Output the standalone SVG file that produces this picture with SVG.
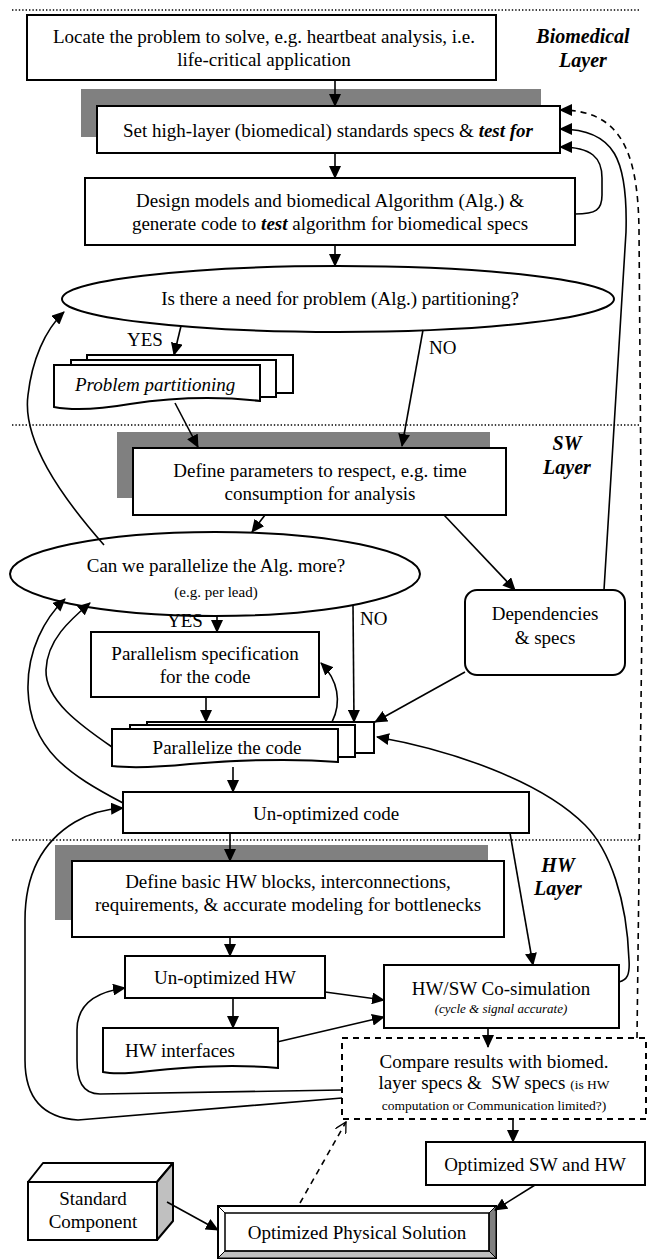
<svg xmlns="http://www.w3.org/2000/svg" width="650" height="1260" viewBox="0 0 650 1260">
<defs>
<marker id="ah" markerUnits="userSpaceOnUse" markerWidth="13" markerHeight="12" refX="12" refY="6" orient="auto"><path d="M0,0 L13,6 L0,12 Z" fill="#000"/></marker>
<marker id="ao" markerUnits="userSpaceOnUse" markerWidth="12" markerHeight="12" refX="11" refY="6" orient="auto"><path d="M0,0 L11,6 L0,12" fill="none" stroke="#000" stroke-width="1.3"/></marker>
<style>
text{font-family:"Liberation Serif","Times New Roman",serif;font-size:19px;fill:#000}
.c{text-anchor:middle}
.bi{font-weight:bold;font-style:italic;font-size:20px}
.it{font-style:italic}
.sm{font-size:15px}
.s2{font-size:13.5px}
.xs{font-size:13px;font-style:italic}
.box{fill:#fff;stroke:#000;stroke-width:2}
.sh{fill:#808080;stroke:none}
.dot{stroke:#000;stroke-width:1.4;stroke-dasharray:1.4 2;fill:none}
.cn path{fill:none;stroke:#000;stroke-width:1.6}
.cn .a{marker-end:url(#ah)}
.dash{stroke-dasharray:6 5}
</style>
</defs>
<rect width="650" height="1260" fill="#fff"/>
<g id="layers">
<line class="dot" x1="12" y1="10" x2="640" y2="10"/>
<line class="dot" x1="12" y1="425" x2="640" y2="425"/>
<line class="dot" x1="12" y1="840" x2="640" y2="840"/>
<text class="bi c" x="583" y="43">Biomedical</text>
<text class="bi c" x="583" y="67">Layer</text>
<text class="bi c" x="567" y="450">SW</text>
<text class="bi c" x="567" y="474">Layer</text>
<text class="bi c" x="558" y="872">HW</text>
<text class="bi c" x="558" y="895">Layer</text>
</g>
<g id="n1"><rect class="box" x="27" y="15" width="469" height="65"/>
<text class="c" x="264" y="43">Locate the problem to solve, e.g. heartbeat analysis, i.e.</text>
<text class="c" x="264" y="66">life-critical application</text></g>
<g id="n2"><rect class="sh" x="81" y="89" width="460" height="48"/><rect class="box" x="97" y="106" width="463" height="47"/>
<text class="c" x="328" y="137">Set high-layer (biomedical) standards specs &amp; <tspan font-weight="bold" font-style="italic">test for</tspan></text></g>
<g id="n3"><rect class="box" x="85" y="178" width="490" height="67"/>
<text class="c" x="330" y="207">Design models and biomedical Algorithm (Alg.) &amp;</text>
<text class="c" x="330" y="230">generate code to <tspan font-weight="bold" font-style="italic">test</tspan> algorithm for biomedical specs</text></g>
<g id="n4"><ellipse class="box" cx="338" cy="299" rx="276" ry="33"/>
<text class="c" x="340" y="305">Is there a need for problem (Alg.) partitioning?</text></g>
<g id="n5"><rect class="box" x="87" y="355" width="206" height="38"/><rect class="box" x="71" y="360" width="205" height="37"/>
<path class="box" d="M54,365 H260 V401 C215,396 170,398 130,404 C95,410 70,410 54,407 Z"/>
<text class="it" x="75" y="391">Problem partitioning</text></g>
<g id="n6"><rect class="sh" x="117" y="432" width="373" height="66"/><rect class="box" x="133" y="448" width="373" height="67"/>
<text class="c" x="320" y="477">Define parameters to respect, e.g. time</text>
<text class="c" x="320" y="500">consumption for analysis</text></g>
<g id="n7"><ellipse class="box" cx="215" cy="574" rx="205" ry="42"/>
<text class="c" x="216" y="572">Can we parallelize the Alg. more?</text>
<text class="c sm" x="216" y="597">(e.g. per lead)</text></g>
<g id="n8"><rect class="box" x="465" y="590" width="160" height="85" rx="12"/>
<text class="c" x="545" y="620">Dependencies</text>
<text class="c" x="545" y="644">&amp; specs</text></g>
<g id="n9"><rect class="box" x="91" y="632" width="228" height="65"/>
<text class="c" x="205" y="660">Parallelism specification</text>
<text class="c" x="205" y="683">for the code</text></g>
<g id="n10"><rect class="box" x="147" y="722" width="227" height="31"/><rect class="box" x="130" y="725" width="225" height="32"/>
<path class="box" d="M112,729 H338 V762 C290,758 240,760 190,764 C150,768 130,768 112,766 Z"/>
<text class="c" x="227" y="754">Parallelize the code</text></g>
<g id="n11"><rect class="box" x="123" y="792" width="406" height="41"/>
<text class="c" x="326" y="820">Un-optimized code</text></g>
<g id="n12"><rect class="sh" x="55" y="845" width="433" height="75"/><rect class="box" x="72" y="861" width="432" height="76"/>
<text class="c" x="288" y="888">Define basic HW blocks, interconnections,</text>
<text class="c" x="288" y="911">requirements, &amp; accurate modeling for bottlenecks</text></g>
<g id="n13"><rect class="box" x="125" y="956" width="200" height="42"/>
<text class="c" x="225" y="984">Un-optimized HW</text></g>
<g id="n14"><rect class="box" x="384" y="965" width="235" height="63"/>
<text class="c" x="501" y="995">HW/SW Co-simulation</text>
<text class="c xs" x="501" y="1013">(cycle &amp; signal accurate)</text></g>
<g id="n15"><path class="box" d="M103,1028 H278 V1068 C230,1064 190,1067 150,1071 C125,1074 112,1074 103,1072 Z"/>
<text x="125" y="1057">HW interfaces</text></g>
<g id="n16"><rect class="box dash" x="342" y="1038" width="304" height="81"/>
<text class="c" x="494" y="1068">Compare results with biomed.</text>
<text class="c" x="494" y="1089">layer specs &amp;&#160; SW specs <tspan class="s2">(is HW</tspan></text>
<text class="c s2" x="494" y="1110">computation or Communication limited?)</text></g>
<g id="n17"><rect class="box" x="426" y="1142" width="219" height="43"/>
<text class="c" x="535" y="1171">Optimized SW and HW</text></g>
<g id="n18"><polygon points="28,1182 43,1163 173,1163 157,1182" fill="#fff" stroke="#000" stroke-width="2" stroke-linejoin="round"/>
<polygon points="157,1182 173,1163 173,1221 157,1240" fill="#c0c0c0" stroke="#000" stroke-width="2" stroke-linejoin="round"/>
<rect class="box" x="28" y="1182" width="129" height="58"/>
<text class="c" x="93" y="1205">Standard</text>
<text class="c" x="93" y="1228">Component</text></g>
<g id="n19"><rect class="box" x="218" y="1206" width="278" height="52"/>
<polygon points="489,1213 496,1206 496,1258 489,1251" fill="#808080" stroke="#000" stroke-width="1"/>
<polygon points="225,1251 489,1251 496,1258 218,1258" fill="#c0c0c0" stroke="#000" stroke-width="1"/>
<line x1="218" y1="1206" x2="225" y2="1213" stroke="#000" stroke-width="1"/>
<line x1="218" y1="1258" x2="225" y2="1251" stroke="#000" stroke-width="1"/>
<rect x="225" y="1213" width="264" height="38" fill="none" stroke="#000" stroke-width="1.5"/>
<text class="c" x="357" y="1239">Optimized Physical Solution</text></g>
<g id="connectors" class="cn">
<path class="a" d="M335,80 L335,106"/>
<path class="a" d="M335,153 L335,178"/>
<path class="a" d="M335,245 L335,266"/>
<path class="a" d="M181,326 L174,355"/>
<text x="127" y="346">YES</text>
<path class="a" d="M423,330 L402,446"/>
<text x="429" y="354">NO</text>
<path class="a" d="M175,403 L198,447"/>
<path class="a" d="M575,214 C596,214 602,210 602,195 L602,178 C602,158 592,147 560,147"/>
<path class="a" d="M604,590 L626,232 C628,160 615,129 560,129"/>
<path class="a dash" d="M637,1038 L642,620 L639,230 C638,150 620,110 560,110"/>
<path class="a" d="M265,515 L252,532"/>
<path class="a" d="M444,515 L515,590"/>
<path class="a" d="M104,545 C60,495 22,440 28,395 C32,360 45,330 64,312"/>
<path class="a" d="M217,616 L217,632"/>
<text x="167" y="627">YES</text>
<path class="a" d="M353,605 L354,722"/>
<text x="360" y="625">NO</text>
<path class="a" d="M206,697 L206,722"/>
<path class="a" d="M332,722 C342,702 338,680 321,663"/>
<path class="a" d="M465,672 L375,722"/>
<path class="a" d="M619,982 C627,980 630,975 629,960 C627,900 610,850 585,825 C540,780 450,750 377,737"/>
<path class="a" d="M123,803 C70,775 30,750 28,690 C27,650 45,618 65,599"/>
<path class="a" d="M112,747 C80,725 45,700 46,670 C47,640 70,620 90,603"/>
<path class="a" d="M233,767 L233,792"/>
<path class="a" d="M230,833 L230,861"/>
<path class="a" d="M510,833 L533,965"/>
<path class="a" d="M230,937 L230,956"/>
<path class="a" d="M325,992 L384,1000"/>
<path class="a" d="M233,998 L233,1028"/>
<path class="a" d="M277,1042 L384,1017"/>
<path class="a" d="M488,1028 L488,1047"/>
<path class="a" d="M342,1090 L100,1094 C82,1094 77,1080 77,1060 L77,1030 C77,1005 95,992 125,988"/>
<path class="a" d="M342,1098 L78,1120 C45,1118 25,1100 25,1060 L25,920 C25,870 45,840 75,822 C90,813 105,809 123,808"/>
<path class="a" d="M513,1119 L513,1142"/>
<path class="a" d="M535,1185 L495,1210"/>
<path class="a" d="M167,1202 L218,1230"/>
<path class="dash" d="M300,1203 L346,1122" marker-end="url(#ao)"/>
</g>
</svg>
